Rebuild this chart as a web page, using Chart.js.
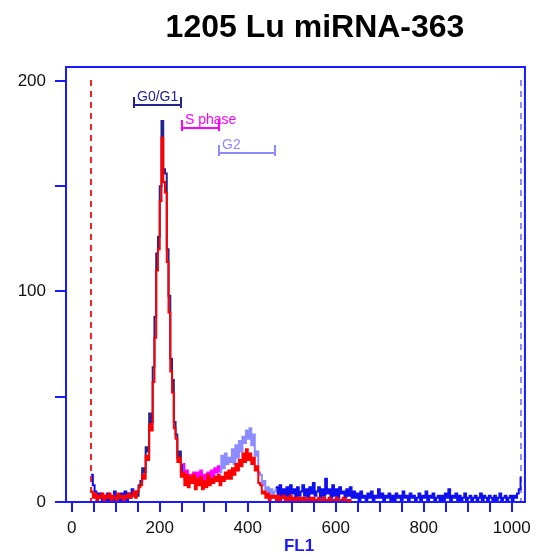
<!DOCTYPE html>
<html><head><meta charset="utf-8">
<script src="https://cdn.jsdelivr.net/npm/chart.js@4.4.1/dist/chart.umd.min.js"></script>
<style>html,body{margin:0;padding:0;background:#fff;overflow:hidden}#wrap{width:537px;height:555px;position:relative}</style>
</head><body><div id="wrap"><canvas id="c" width="537" height="555"></canvas></div>
<script>
const chartTitle = '1205 Lu miRNA-363';
const xAxisTitle = 'FL1';
const firstChannel = 0;
const binWidth = 4;
// control histogram (colored by gate), counts per 4-channel bin
const controlCounts = [
 null,null,null,null,null,null,null,null,null,null,
 null,13,8,5,4,2,4,1,3,1,
 4,1,3,1,5,2,3,1,4,2,
 5,1,4,2,6,3,5,3,8,10,
 16,14,26,24,42,38,64,88,118,126,
 150,181,158,156,120,98,68,58,38,32,
 21,24,14,18,11,15,9,13,12,14,
 8,14,9,15,7,13,10,14,9,15,
 12,16,14,17,14,22,16,23,18,21,
 19,25,18,27,21,29,24,31,28,34,
 30,35,27,32,22,24,14,13,8,10,
 5,7,3,6,2,5,7,3,8,2,
 6,3,7,2,8,4,6,2,7,3,
 5,8,3,6,2,7,4,9,3,5,
 7,2,6,3,11,4,6,2,8,3,
 6,2,7,4,5,2,6,3,7,2,
 5,2,4,1,5,2,3,1,4,2,
 5,1,3,2,6,2,4,1,3,2,
 4,1,3,1,4,2,3,1,5,2,
 3,1,4,2,3,1,2,4,1,3,
 2,5,1,3,2,4,1,2,3,1,
 3,1,4,2,6,1,3,2,4,1,
 3,1,2,4,1,2,3,1,2,3,
 1,2,4,1,3,2,1,3,2,1,
 3,1,2,4,1,2,3,1,2,3,
 1,3,2,4,6,12
];
// miRNA-363 histogram (red)
const mirCounts = [
 null,null,null,null,null,null,null,null,null,null,
 null,5,2,4,1,3,2,4,1,3,
 2,4,1,3,2,1,4,2,3,1,
 3,2,4,2,3,5,2,5,7,8,
 13,11,22,20,37,34,57,78,110,120,
 143,173,152,147,114,90,62,52,35,30,
 19,21,12,14,8,13,7,12,9,13,
 6,11,8,12,6,10,7,13,8,11,
 9,12,10,13,8,12,10,14,11,15,
 11,16,13,18,15,20,17,23,19,25,
 20,23,18,21,15,17,9,8,4,5,
 2,4,1,3,2,3,1,3,1,2,
 3,1,2,1,3,1,2,1,2,1,
 2,1,2,1,1,2,1,2,1,1,
 2,1,1,2,1,1,2,1,1,1,
 2,1,1,1,2,1,1,0,1,1
];
const gateNames = ['G0/G1', 'S phase', 'G2'];
const gateStarts = [141, 251, 335];
const gateEnds = [248, 335, 462];
const cursorChannels = [44, 1021];
const xTickLabels = [0, 200, 400, 600, 800, 1000];
const yTickLabels = [0, 100, 200];

const AXIS = '#1a1aff';
const gateColors = ['#24248e', '#ff00ff', '#8c8cff'];
const outsideColor = '#1010ee';
const cursorColors = ['#ff2020', '#8c8cff'];
const gateRowY = [105, 128, 153];
const FONT = '"Liberation Sans", Arial, sans-serif';

function toPoints(arr){ return arr.map((v,i)=>({x: firstChannel + i*binWidth, y: v})); }
function gateColor(x){
  for (let g=0; g<gateStarts.length; g++){ if (x>=gateStarts[g] && x<gateEnds[g]) return gateColors[g]; }
  return outsideColor;
}

const deco = {
  id:'deco',
  beforeDatasetsDraw(chart){
    const {ctx, chartArea:a, scales:{x}} = chart;
    ctx.save();
    ctx.lineWidth = 2; ctx.setLineDash([6,5]);
    cursorChannels.forEach((c,i)=>{
      const px = Math.round(x.getPixelForValue(c));
      ctx.strokeStyle = cursorColors[i];
      ctx.beginPath(); ctx.moveTo(px, 80); ctx.lineTo(px, a.bottom-1); ctx.stroke();
    });
    ctx.restore();
  },
  afterDatasetsDraw(chart){
    const {ctx, chartArea:a, scales:{x}} = chart;
    ctx.save();
    ctx.strokeStyle = AXIS; ctx.lineWidth = 2;
    ctx.beginPath(); ctx.moveTo(a.left, a.top); ctx.lineTo(a.right, a.top); ctx.lineTo(a.right, a.bottom); ctx.stroke();
    gateNames.forEach((name,g)=>{
      const x1 = Math.round(x.getPixelForValue(gateStarts[g]));
      const x2 = Math.round(x.getPixelForValue(gateEnds[g]));
      const y = gateRowY[g];
      ctx.strokeStyle = gateColors[g]; ctx.fillStyle = gateColors[g]; ctx.lineWidth = 2;
      ctx.beginPath();
      ctx.moveTo(x1, y); ctx.lineTo(x2, y);
      ctx.moveTo(x1, y-8); ctx.lineTo(x1, y+3);
      ctx.moveTo(x2, y-8); ctx.lineTo(x2, y+3);
      ctx.stroke();
      ctx.font = '14px ' + FONT; ctx.textAlign = 'left'; ctx.textBaseline = 'alphabetic';
      ctx.fillText(name, x1 + 3, y - 4);
    });
    ctx.restore();
  },
  afterDraw(chart){
    const {ctx} = chart;
    ctx.save();
    ctx.fillStyle = '#000'; ctx.font = 'bold 32px ' + FONT;
    ctx.textAlign = 'center'; ctx.textBaseline = 'alphabetic';
    ctx.fillText(chartTitle, 315, 37);
    ctx.fillStyle = AXIS; ctx.font = 'bold 17px ' + FONT; ctx.textBaseline = 'middle';
    ctx.fillText(xAxisTitle, 299, 546);
    ctx.restore();
  }
};

Chart.defaults.font.family = FONT;
new Chart(document.getElementById('c'), {
  type: 'line',
  data: { datasets: [
    { label: 'miRNA-363', data: toPoints(mirCounts), borderColor: '#ff0000', borderWidth: 2, pointRadius: 0, stepped: true, spanGaps: false },
    { label: 'control', data: toPoints(controlCounts), borderColor: outsideColor, borderWidth: 2, pointRadius: 0, stepped: true, spanGaps: false,
      segment: { borderColor: c => gateColor(c.p0.parsed.x) } }
  ]},
  options: {
    responsive: false, animation: false, devicePixelRatio: 1,
    layout: { padding: { top: 67, right: 12, left: 0, bottom: 0 } },
    plugins: { legend: { display: false }, tooltip: { enabled: false } },
    scales: {
      x: {
        type: 'linear', min: -13, max: 1030,
        afterFit: s => { s.height = 53; },
        ticks: { stepSize: 50, includeBounds: false, autoSkip: false, maxRotation: 0, padding: 6,
          color: '#111', font: { size: 17 },
          callback: v => xTickLabels.includes(v) ? String(v) : '' },
        grid: { drawOnChartArea: false, drawTicks: true, tickLength: 10, color: AXIS, lineWidth: 2 },
        border: { display: true, color: AXIS, width: 2 },
        title: { display: false }
      },
      y: {
        min: 0, max: 206.6,
        afterFit: s => { s.width = 66; },
        ticks: { stepSize: 50, includeBounds: false, autoSkip: false, padding: 9, color: '#111', font: { size: 17 },
          callback: v => yTickLabels.includes(v) ? String(v) : '' },
        grid: { drawOnChartArea: false, drawTicks: true, tickLength: 11, color: AXIS, lineWidth: 2 },
        border: { display: true, color: AXIS, width: 2 }
      }
    }
  },
  plugins: [deco]
});
</script></body></html>
